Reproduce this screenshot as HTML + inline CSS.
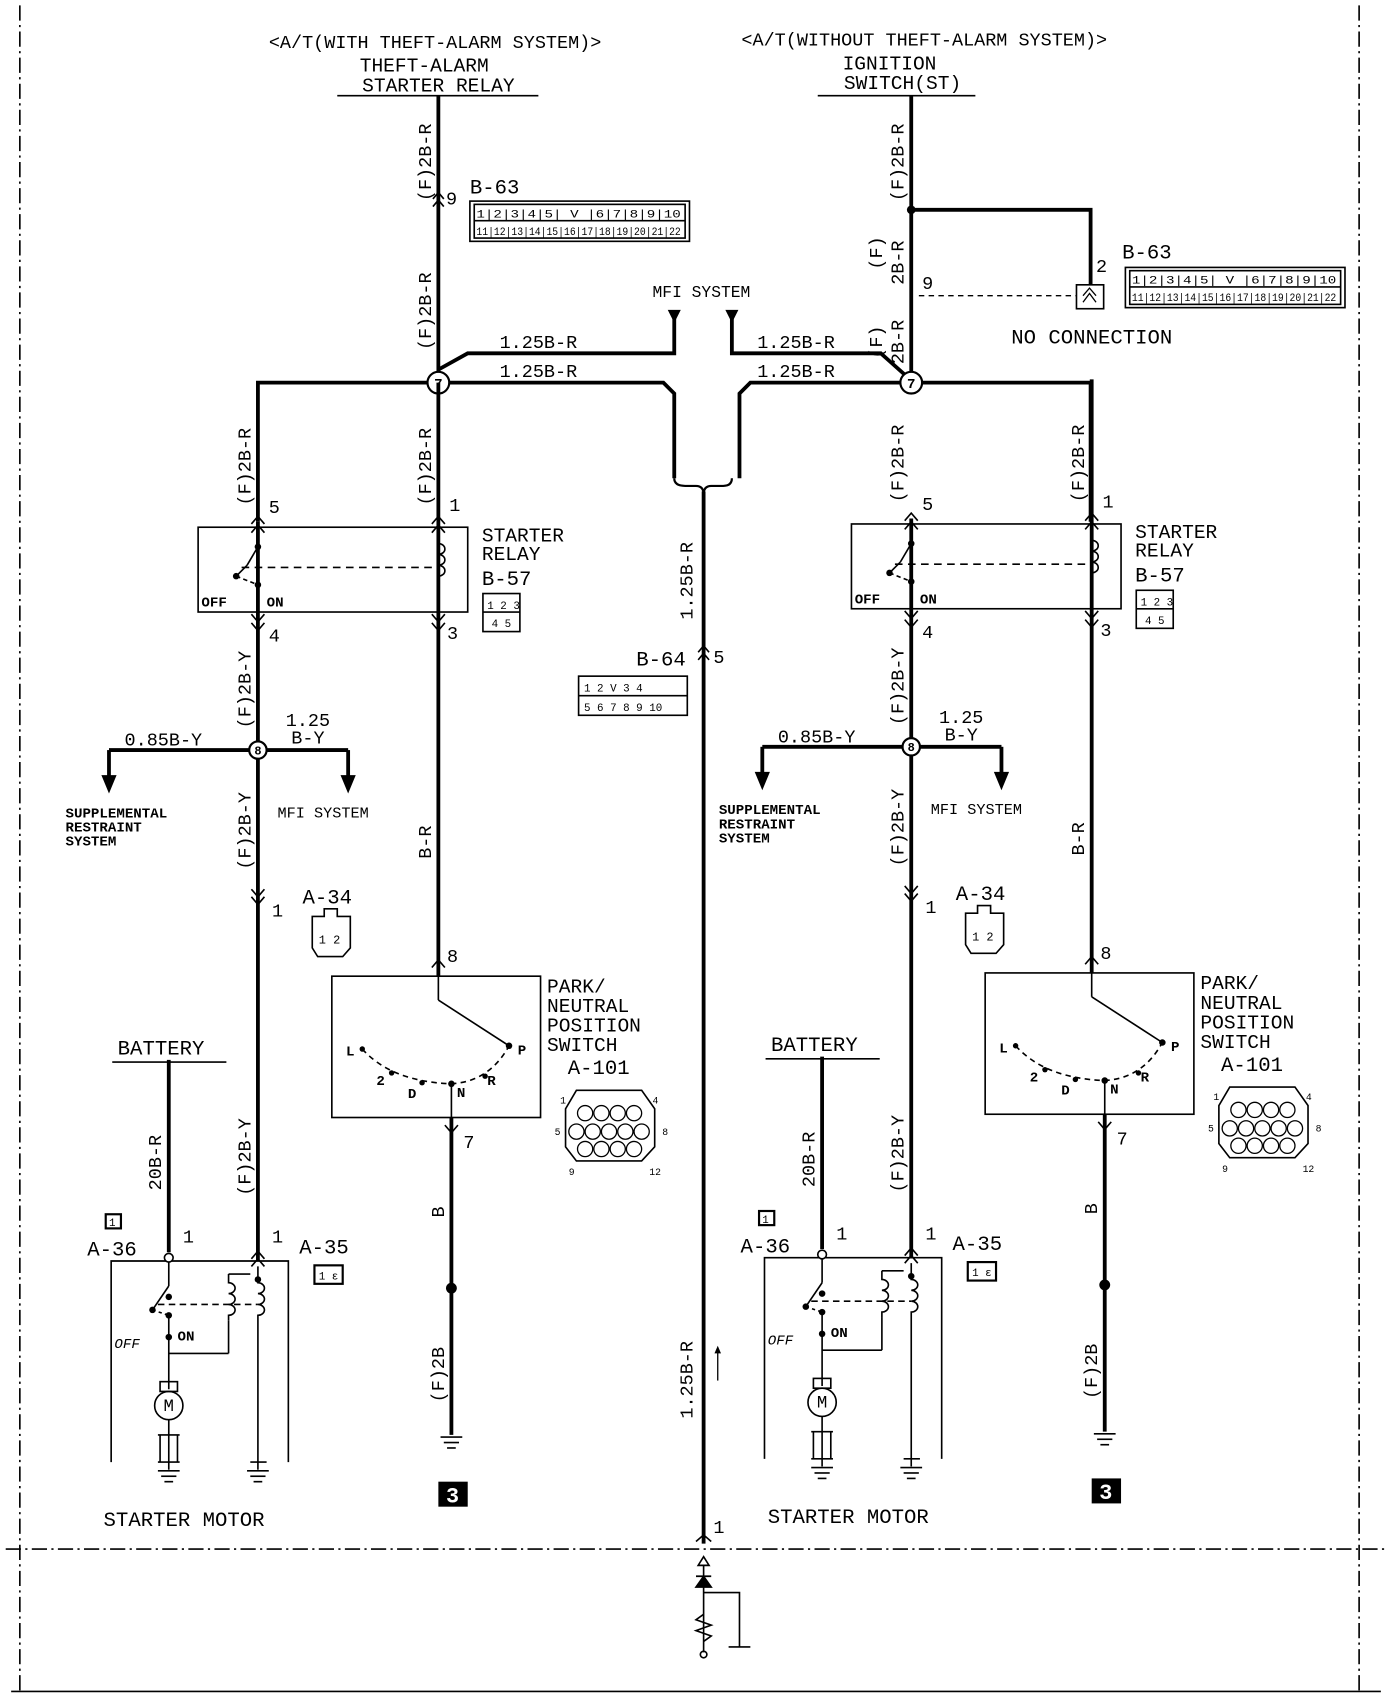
<!DOCTYPE html>
<html><head><meta charset="utf-8"><style>
html,body{margin:0;padding:0;background:#fff;}
svg{display:block;}
text{font-family:"Liberation Mono","DejaVu Sans Mono",monospace;fill:#000;}
</style></head><body>
<svg width="1392" height="1698" viewBox="0 0 1280 1562" xmlns="http://www.w3.org/2000/svg">
<rect width="1280" height="1562" fill="#fff"/>
<g stroke="#000" stroke-width="1.5" fill="none" stroke-dasharray="14,4,2,4">
<line x1="18" y1="5" x2="18" y2="1555"/>
<line x1="1250" y1="5" x2="1250" y2="1555"/>
<line x1="5" y1="1425" x2="1275" y2="1425"/>
</g>
<line x1="10" y1="1556" x2="1270" y2="1556" stroke="#000" stroke-width="1.5"/>

<text x="400" y="44" font-size="17" text-anchor="middle">&lt;A/T(WITH THEFT-ALARM SYSTEM)&gt;</text>
<text x="850" y="42" font-size="17" text-anchor="middle">&lt;A/T(WITHOUT THEFT-ALARM SYSTEM)&gt;</text>
<text x="390" y="66" font-size="18" text-anchor="middle">THEFT-ALARM</text>
<text x="403" y="84" font-size="18" text-anchor="middle">STARTER RELAY</text>
<line x1="310" y1="88" x2="495" y2="88" stroke="#000" stroke-width="1.5"/>
<text x="818" y="64" font-size="18" text-anchor="middle">IGNITION</text>
<text x="830" y="82" font-size="18" text-anchor="middle">SWITCH(ST)</text>
<line x1="752" y1="88" x2="897" y2="88" stroke="#000" stroke-width="1.5"/>

<g stroke="#000" stroke-width="3.5" fill="none">
<line x1="403" y1="88" x2="403" y2="352"/>
<line x1="838" y1="88" x2="838" y2="352"/>
<polyline points="838,193 1003,193 1003,262"/>
<polyline points="403,340 430,325 620,325 620,292"/>
<polyline points="673,292 673,325 810,325 838,350"/>
<polyline points="237,480 237,352 610,352 620,362 620,440"/>
<polyline points="1003,480 1003,352 690,352 680,362 680,440"/>
<line x1="647" y1="452" x2="647" y2="1420"/>
</g>
<circle cx="838" cy="193" r="4"/>
<path d="M620,440 Q620,447 630,447 L640,447 Q647,447 647,455 Q647,447 654,447 L665,447 Q673,447 673,440" stroke="#000" stroke-width="2" fill="none"/>
<path d="M614,285 L626,285 L620,297 Z M667,285 L679,285 L673,297 Z"/>
<text x="645" y="273" font-size="15" text-anchor="middle">MFI SYSTEM</text>
<text x="495" y="320" font-size="17" text-anchor="middle">1.25B-R</text>
<text x="495" y="347" font-size="17" text-anchor="middle">1.25B-R</text>
<text x="732" y="320" font-size="17" text-anchor="middle">1.25B-R</text>
<text x="732" y="347" font-size="17" text-anchor="middle">1.25B-R</text>
<circle cx="403" cy="352" r="10" fill="#fff" stroke="#000" stroke-width="2"/><text x="403" y="357" font-size="13" font-weight="bold" text-anchor="middle">7</text>
<circle cx="838" cy="352" r="10" fill="#fff" stroke="#000" stroke-width="2"/><text x="838" y="357" font-size="13" font-weight="bold" text-anchor="middle">7</text>

<g font-size="17">
<text transform="translate(396,185) rotate(-90)">(F)2B-R</text>
<text transform="translate(396,322) rotate(-90)">(F)2B-R</text>
<text transform="translate(831,185) rotate(-90)">(F)2B-R</text>
<text transform="translate(811,248) rotate(-90)">(F)</text>
<text transform="translate(831,262) rotate(-90)">2B-R</text>
<text transform="translate(811,330) rotate(-90)">(F)</text>
<text transform="translate(831,335) rotate(-90)">2B-R</text>
</g>
<path d="M398,183 L403,177 L408,183 M398,190 L403,184 L408,190" stroke="#000" stroke-width="1.5" fill="none"/>
<text x="410" y="188" font-size="17">9</text>
<text x="432" y="178" font-size="19">B-63</text>
<g stroke="#000" stroke-width="1.5" fill="none">
<rect x="432" y="185" width="202" height="37"/>
<rect x="436" y="188" width="194" height="31"/>
<line x1="436" y1="203" x2="630" y2="203"/>
</g>
<text x="438" y="200" font-size="10" textLength="188" lengthAdjust="spacingAndGlyphs">1|2|3|4|5| V |6|7|8|9|10</text>
<text x="438" y="216" font-size="10" textLength="188" lengthAdjust="spacingAndGlyphs">11|12|13|14|15|16|17|18|19|20|21|22</text>
<text x="848" y="266" font-size="17">9</text>
<line x1="845" y1="272" x2="990" y2="272" stroke="#000" stroke-width="1.2" stroke-dasharray="5,4"/>
<rect x="990" y="262" width="25" height="22" fill="#fff" stroke="#000" stroke-width="1.5"/>
<path d="M996,278 L1002,270 L1008,278 M996,272 L1002,265 L1008,272" stroke="#000" stroke-width="1.2" fill="none"/>
<text x="1008" y="250" font-size="17">2</text>
<text x="1032" y="238" font-size="19">B-63</text>
<g stroke="#000" stroke-width="1.5" fill="none">
<rect x="1035" y="246" width="202" height="37"/>
<rect x="1039" y="249" width="194" height="31"/>
<line x1="1039" y1="264" x2="1233" y2="264"/>
</g>
<text x="1041" y="261" font-size="10" textLength="188" lengthAdjust="spacingAndGlyphs">1|2|3|4|5| V |6|7|8|9|10</text>
<text x="1041" y="277" font-size="10" textLength="188" lengthAdjust="spacingAndGlyphs">11|12|13|14|15|16|17|18|19|20|21|22</text>
<text x="930" y="316" font-size="19">NO CONNECTION</text>

<text transform="translate(637,570) rotate(-90)" font-size="17">1.25B-R</text>
<text transform="translate(637,1305) rotate(-90)" font-size="17">1.25B-R</text>
<path d="M642,600 L647,594 L652,600 M642,607 L647,601 L652,607" stroke="#000" stroke-width="1.5" fill="none"/>
<text x="585" y="612" font-size="19">B-64</text><text x="656" y="610" font-size="17">5</text>
<g stroke="#000" stroke-width="1.5" fill="none"><rect x="532" y="622" width="100" height="36"/><line x1="532" y1="640" x2="632" y2="640"/></g>
<text x="537" y="636" font-size="10">1 2 V 3 4</text><text x="537" y="654" font-size="10">5 6 7 8 9 10</text>
<line x1="660" y1="1270" x2="660" y2="1240" stroke="#000" stroke-width="1.2"/>
<path d="M657,1245 L660,1238 L663,1245 Z"/>
<text x="656" y="1410" font-size="17">1</text>
<path d="M640,1418 L647,1412 L654,1418" stroke="#000" stroke-width="1.5" fill="none"/>
<g stroke="#000" stroke-width="1.5" fill="none">
<path d="M642,1440 L647,1432 L652,1440 Z"/>
<line x1="647" y1="1440" x2="647" y2="1520"/>
<path d="M640,1450 L654,1450 M640,1460 L654,1460 L647,1450 L640,1460 Z" fill="#000"/>
<polyline points="647,1465 680,1465 680,1515"/>
<polyline points="647,1485 640,1490 654,1495 640,1500 654,1505 647,1510"/>
<line x1="670" y1="1515" x2="690" y2="1515"/>
<circle cx="647" cy="1522" r="3"/>
</g>

<g id="L">
<g stroke="#000" stroke-width="3.5" fill="none">
<line x1="237" y1="480" x2="237" y2="1160"/>
<line x1="403" y1="352" x2="403" y2="898"/>
<line x1="155" y1="975" x2="155" y2="1152"/>
<line x1="415" y1="1028" x2="415" y2="1320"/>
<line x1="100" y1="690" x2="320" y2="690"/>
<line x1="100" y1="690" x2="100" y2="715"/>
<line x1="320" y1="690" x2="320" y2="715"/>
</g>
<path d="M93,713 L107,713 L100,730 Z M313,713 L327,713 L320,730 Z"/>
<circle cx="237" cy="690" r="8" fill="#fff" stroke="#000" stroke-width="2"/><text x="237" y="694" font-size="11" font-weight="bold" text-anchor="middle">8</text>
<g font-size="17">
<text transform="translate(230,465) rotate(-90)">(F)2B-R</text>
<text transform="translate(396,465) rotate(-90)">(F)2B-R</text>
<text transform="translate(230,670) rotate(-90)">(F)2B-Y</text>
<text transform="translate(230,800) rotate(-90)">(F)2B-Y</text>
<text transform="translate(230,1100) rotate(-90)">(F)2B-Y</text>
<text transform="translate(396,790) rotate(-90)">B-R</text>
<text transform="translate(148,1095) rotate(-90)">20B-R</text>
<text transform="translate(408,1120) rotate(-90)">B</text>
<text transform="translate(408,1290) rotate(-90)">(F)2B</text>
</g>
<g font-size="17">
<text x="247" y="472">5</text><text x="413" y="470">1</text>
<text x="247" y="590">4</text><text x="411" y="588">3</text>
<text x="250" y="843">1</text><text x="411" y="885">8</text>
<text x="426" y="1056">7</text>
<text x="168" y="1143">1</text><text x="250" y="1143">1</text>
</g>
<g stroke="#000" stroke-width="1.5" fill="none">
<path d="M231,482 L237,475 L243,482 M231,490 L237,483 L243,490"/>
<path d="M397,482 L403,475 L409,482 M397,490 L403,483 L409,490"/>
<path d="M231,565 L237,572 L243,565 M231,573 L237,580 L243,573"/>
<path d="M397,565 L403,572 L409,565 M397,573 L403,580 L409,573"/>
<path d="M231,818 L237,825 L243,818 M231,825 L237,832 L243,825"/>
<path d="M397,890 L403,883 L409,890"/>
<path d="M409,1035 L415,1042 L421,1035"/>
<path d="M231,1158 L237,1151 L243,1158 M231,1165 L237,1158 L243,1165"/>
</g>
<g stroke="#000" stroke-width="1.5" fill="none">
<rect x="182" y="485" width="248" height="78"/>
<line x1="237" y1="485" x2="237" y2="503"/>
<line x1="237" y1="503" x2="227" y2="520"/>
<line x1="227" y1="520" x2="217" y2="530"/>
<line x1="222" y1="522" x2="400" y2="522" stroke-dasharray="7,5"/>
<path d="M217,530 L237,538" stroke-dasharray="4,3"/>
<line x1="237" y1="538" x2="237" y2="563"/>
<path d="M403,485 L403,500 a6,5 0 1 1 0,10 a6,5 0 1 1 0,10 a6,5 0 1 1 0,10 L403,563"/>
</g>
<circle cx="237" cy="503" r="3"/><circle cx="217" cy="530" r="3"/><circle cx="237" cy="538" r="3"/>
<text x="185" y="558" font-size="13" font-weight="bold">OFF</text><text x="245" y="558" font-size="13" font-weight="bold">ON</text>
<text x="443" y="498" font-size="18">STARTER</text><text x="443" y="515" font-size="18">RELAY</text>
<text x="443" y="538" font-size="19">B-57</text>
<g stroke="#000" stroke-width="1.5" fill="none"><rect x="444" y="546" width="34" height="35"/><line x1="444" y1="563" x2="478" y2="563"/></g>
<text x="448" y="560" font-size="10">1 2 3</text><text x="452" y="577" font-size="10">4  5</text>
<text x="150" y="686" font-size="17" text-anchor="middle">0.85B-Y</text>
<text x="283" y="668" font-size="17" text-anchor="middle">1.25</text>
<text x="283" y="684" font-size="17" text-anchor="middle">B-Y</text>
<text x="60" y="752" font-size="13" font-weight="bold">SUPPLEMENTAL</text>
<text x="60" y="765" font-size="13" font-weight="bold">RESTRAINT</text>
<text x="60" y="778" font-size="13" font-weight="bold">SYSTEM</text>
<text x="255" y="752" font-size="14">MFI SYSTEM</text>
<text x="278" y="831" font-size="19">A-34</text>
<path d="M287,843 L298,843 L298,836 L310,836 L310,843 L322,843 L322,872 L315,880 L292,880 L287,872 Z" stroke="#000" stroke-width="1.5" fill="none"/>
<text x="293" y="868" font-size="11">1 2</text>
<rect x="305" y="898" width="192" height="130" stroke="#000" stroke-width="1.5" fill="none"/>
<g stroke="#000" stroke-width="1.5" fill="none">
<line x1="403" y1="898" x2="403" y2="920"/>
<line x1="403" y1="920" x2="468" y2="962"/>
<path d="M333,965 Q360,995 415,997 Q450,995 468,962" stroke-dasharray="5,4"/>
<line x1="415" y1="997" x2="415" y2="1028"/>
</g>
<circle cx="468" cy="962" r="3"/><circle cx="415" cy="997" r="3"/><circle cx="360" cy="987" r="2.5"/><circle cx="388" cy="996" r="2.5"/><circle cx="446" cy="990" r="2.5"/><circle cx="333" cy="965" r="2.5"/>
<g font-size="13" font-weight="bold"><text x="318" y="971">L</text><text x="346" y="998">2</text><text x="375" y="1010">D</text><text x="420" y="1009">N</text><text x="448" y="998">R</text><text x="476" y="970">P</text></g>
<g font-size="18"><text x="503" y="913">PARK/</text><text x="503" y="931">NEUTRAL</text><text x="503" y="949">POSITION</text><text x="503" y="967">SWITCH</text></g>
<text x="522" y="988" font-size="19">A-101</text>
<path d="M530,1003 L590,1003 L602,1020 L602,1055 L590,1068 L530,1068 L520,1055 L520,1020 Z" stroke="#000" stroke-width="1.5" fill="none"/>
<g stroke="#000" stroke-width="1.2" fill="none">
<circle cx="538" cy="1024" r="7"/><circle cx="553" cy="1024" r="7"/><circle cx="568" cy="1024" r="7"/><circle cx="583" cy="1024" r="7"/>
<circle cx="530" cy="1041" r="7"/><circle cx="545" cy="1041" r="7"/><circle cx="560" cy="1041" r="7"/><circle cx="575" cy="1041" r="7"/><circle cx="590" cy="1041" r="7"/>
<circle cx="538" cy="1057" r="7"/><circle cx="553" cy="1057" r="7"/><circle cx="568" cy="1057" r="7"/><circle cx="583" cy="1057" r="7"/>
</g>
<g font-size="9"><text x="515" y="1015">1</text><text x="600" y="1015">4</text><text x="510" y="1044">5</text><text x="609" y="1044">8</text><text x="523" y="1081">9</text><text x="597" y="1081">12</text></g>
<circle cx="415" cy="1185" r="5"/>
<g stroke="#000" stroke-width="1.5"><line x1="405" y1="1322" x2="425" y2="1322"/><line x1="408" y1="1327" x2="422" y2="1327"/><line x1="411" y1="1332" x2="419" y2="1332"/></g>
<rect x="403" y="1363" width="27" height="23"/><text x="416" y="1382" font-size="20" font-weight="bold" text-anchor="middle" style="fill:#fff">3</text>
<text x="108" y="970" font-size="19">BATTERY</text>
<line x1="103" y1="977" x2="208" y2="977" stroke="#000" stroke-width="1.5"/>
<rect x="97" y="1117" width="14" height="13" stroke="#000" stroke-width="2" fill="none"/><text x="100" y="1128" font-size="10">1</text>
<text x="80" y="1155" font-size="19">A-36</text>
<text x="275" y="1153" font-size="19">A-35</text>
<rect x="289" y="1164" width="26" height="17" stroke="#000" stroke-width="2" fill="none"/><text x="293" y="1177" font-size="10">1 ε</text>
<g stroke="#000" stroke-width="1.5" fill="none">
<polyline points="102,1345 102,1160 265,1160 265,1345"/>
<circle cx="155" cy="1157" r="4" fill="#fff"/>
<line x1="155" y1="1161" x2="155" y2="1183"/>
<line x1="155" y1="1183" x2="140" y2="1205"/>
<line x1="145" y1="1200" x2="237" y2="1200" stroke-dasharray="6,4"/>
<path d="M140,1205 L155,1210" stroke-dasharray="3,3"/>
<polyline points="155,1210 155,1278"/>
<line x1="155" y1="1245" x2="210" y2="1245"/>
<polyline points="210,1245 210,1215"/>
<path d="M210,1172 L230,1172 M210,1172 L210,1180 a6,5 0 1 1 0,10 a6,5 0 1 1 0,10 a6,5 0 1 1 0,10 L210,1215"/>
<path d="M237,1165 L237,1180 a6,5 0 1 1 0,10 a6,5 0 1 1 0,10 a6,5 0 1 1 0,10 L237,1345"/>
<circle cx="155" cy="1293" r="13"/>
<rect x="147" y="1271" width="16" height="9"/>
<line x1="155" y1="1306" x2="155" y2="1345"/>
<line x1="145" y1="1320" x2="165" y2="1320"/>
<line x1="147" y1="1320" x2="147" y2="1345"/><line x1="163" y1="1320" x2="163" y2="1345"/>
<line x1="230" y1="1345" x2="245" y2="1345"/>
<line x1="145" y1="1345" x2="165" y2="1345"/>
<line x1="155" y1="1345" x2="155" y2="1352"/><line x1="237" y1="1345" x2="237" y2="1352"/>
<line x1="145" y1="1353" x2="165" y2="1353"/><line x1="148" y1="1358" x2="162" y2="1358"/><line x1="151" y1="1363" x2="159" y2="1363"/>
<line x1="227" y1="1353" x2="247" y2="1353"/><line x1="230" y1="1358" x2="244" y2="1358"/><line x1="233" y1="1363" x2="241" y2="1363"/>
</g>
<circle cx="155" cy="1193" r="3"/><circle cx="140" cy="1205" r="3"/><circle cx="155" cy="1210" r="3"/><circle cx="155" cy="1230" r="3"/><circle cx="237" cy="1177" r="3"/>
<text x="145" y="1298" font-size="16" text-anchor="middle" dx="10">M</text>
<text x="105" y="1240" font-size="13" font-style="italic">OFF</text><text x="163" y="1233" font-size="13" font-weight="bold">ON</text>
<text x="95" y="1404" font-size="19">STARTER MOTOR</text>
</g>

<g transform="translate(601,-3)">
<g stroke="#000" stroke-width="3.5" fill="none">
<line x1="237" y1="480" x2="237" y2="1160"/>
<line x1="403" y1="352" x2="403" y2="898"/>
<line x1="155" y1="975" x2="155" y2="1152"/>
<line x1="415" y1="1028" x2="415" y2="1320"/>
<line x1="100" y1="690" x2="320" y2="690"/>
<line x1="100" y1="690" x2="100" y2="715"/>
<line x1="320" y1="690" x2="320" y2="715"/>
</g>
<path d="M93,713 L107,713 L100,730 Z M313,713 L327,713 L320,730 Z"/>
<circle cx="237" cy="690" r="8" fill="#fff" stroke="#000" stroke-width="2"/><text x="237" y="694" font-size="11" font-weight="bold" text-anchor="middle">8</text>
<g font-size="17">
<text transform="translate(230,465) rotate(-90)">(F)2B-R</text>
<text transform="translate(396,465) rotate(-90)">(F)2B-R</text>
<text transform="translate(230,670) rotate(-90)">(F)2B-Y</text>
<text transform="translate(230,800) rotate(-90)">(F)2B-Y</text>
<text transform="translate(230,1100) rotate(-90)">(F)2B-Y</text>
<text transform="translate(396,790) rotate(-90)">B-R</text>
<text transform="translate(148,1095) rotate(-90)">20B-R</text>
<text transform="translate(408,1120) rotate(-90)">B</text>
<text transform="translate(408,1290) rotate(-90)">(F)2B</text>
</g>
<g font-size="17">
<text x="247" y="472">5</text><text x="413" y="470">1</text>
<text x="247" y="590">4</text><text x="411" y="588">3</text>
<text x="250" y="843">1</text><text x="411" y="885">8</text>
<text x="426" y="1056">7</text>
<text x="168" y="1143">1</text><text x="250" y="1143">1</text>
</g>
<g stroke="#000" stroke-width="1.5" fill="none">
<path d="M231,482 L237,475 L243,482 M231,490 L237,483 L243,490"/>
<path d="M397,482 L403,475 L409,482 M397,490 L403,483 L409,490"/>
<path d="M231,565 L237,572 L243,565 M231,573 L237,580 L243,573"/>
<path d="M397,565 L403,572 L409,565 M397,573 L403,580 L409,573"/>
<path d="M231,818 L237,825 L243,818 M231,825 L237,832 L243,825"/>
<path d="M397,890 L403,883 L409,890"/>
<path d="M409,1035 L415,1042 L421,1035"/>
<path d="M231,1158 L237,1151 L243,1158 M231,1165 L237,1158 L243,1165"/>
</g>
<g stroke="#000" stroke-width="1.5" fill="none">
<rect x="182" y="485" width="248" height="78"/>
<line x1="237" y1="485" x2="237" y2="503"/>
<line x1="237" y1="503" x2="227" y2="520"/>
<line x1="227" y1="520" x2="217" y2="530"/>
<line x1="222" y1="522" x2="400" y2="522" stroke-dasharray="7,5"/>
<path d="M217,530 L237,538" stroke-dasharray="4,3"/>
<line x1="237" y1="538" x2="237" y2="563"/>
<path d="M403,485 L403,500 a6,5 0 1 1 0,10 a6,5 0 1 1 0,10 a6,5 0 1 1 0,10 L403,563"/>
</g>
<circle cx="237" cy="503" r="3"/><circle cx="217" cy="530" r="3"/><circle cx="237" cy="538" r="3"/>
<text x="185" y="558" font-size="13" font-weight="bold">OFF</text><text x="245" y="558" font-size="13" font-weight="bold">ON</text>
<text x="443" y="498" font-size="18">STARTER</text><text x="443" y="515" font-size="18">RELAY</text>
<text x="443" y="538" font-size="19">B-57</text>
<g stroke="#000" stroke-width="1.5" fill="none"><rect x="444" y="546" width="34" height="35"/><line x1="444" y1="563" x2="478" y2="563"/></g>
<text x="448" y="560" font-size="10">1 2 3</text><text x="452" y="577" font-size="10">4  5</text>
<text x="150" y="686" font-size="17" text-anchor="middle">0.85B-Y</text>
<text x="283" y="668" font-size="17" text-anchor="middle">1.25</text>
<text x="283" y="684" font-size="17" text-anchor="middle">B-Y</text>
<text x="60" y="752" font-size="13" font-weight="bold">SUPPLEMENTAL</text>
<text x="60" y="765" font-size="13" font-weight="bold">RESTRAINT</text>
<text x="60" y="778" font-size="13" font-weight="bold">SYSTEM</text>
<text x="255" y="752" font-size="14">MFI SYSTEM</text>
<text x="278" y="831" font-size="19">A-34</text>
<path d="M287,843 L298,843 L298,836 L310,836 L310,843 L322,843 L322,872 L315,880 L292,880 L287,872 Z" stroke="#000" stroke-width="1.5" fill="none"/>
<text x="293" y="868" font-size="11">1 2</text>
<rect x="305" y="898" width="192" height="130" stroke="#000" stroke-width="1.5" fill="none"/>
<g stroke="#000" stroke-width="1.5" fill="none">
<line x1="403" y1="898" x2="403" y2="920"/>
<line x1="403" y1="920" x2="468" y2="962"/>
<path d="M333,965 Q360,995 415,997 Q450,995 468,962" stroke-dasharray="5,4"/>
<line x1="415" y1="997" x2="415" y2="1028"/>
</g>
<circle cx="468" cy="962" r="3"/><circle cx="415" cy="997" r="3"/><circle cx="360" cy="987" r="2.5"/><circle cx="388" cy="996" r="2.5"/><circle cx="446" cy="990" r="2.5"/><circle cx="333" cy="965" r="2.5"/>
<g font-size="13" font-weight="bold"><text x="318" y="971">L</text><text x="346" y="998">2</text><text x="375" y="1010">D</text><text x="420" y="1009">N</text><text x="448" y="998">R</text><text x="476" y="970">P</text></g>
<g font-size="18"><text x="503" y="913">PARK/</text><text x="503" y="931">NEUTRAL</text><text x="503" y="949">POSITION</text><text x="503" y="967">SWITCH</text></g>
<text x="522" y="988" font-size="19">A-101</text>
<path d="M530,1003 L590,1003 L602,1020 L602,1055 L590,1068 L530,1068 L520,1055 L520,1020 Z" stroke="#000" stroke-width="1.5" fill="none"/>
<g stroke="#000" stroke-width="1.2" fill="none">
<circle cx="538" cy="1024" r="7"/><circle cx="553" cy="1024" r="7"/><circle cx="568" cy="1024" r="7"/><circle cx="583" cy="1024" r="7"/>
<circle cx="530" cy="1041" r="7"/><circle cx="545" cy="1041" r="7"/><circle cx="560" cy="1041" r="7"/><circle cx="575" cy="1041" r="7"/><circle cx="590" cy="1041" r="7"/>
<circle cx="538" cy="1057" r="7"/><circle cx="553" cy="1057" r="7"/><circle cx="568" cy="1057" r="7"/><circle cx="583" cy="1057" r="7"/>
</g>
<g font-size="9"><text x="515" y="1015">1</text><text x="600" y="1015">4</text><text x="510" y="1044">5</text><text x="609" y="1044">8</text><text x="523" y="1081">9</text><text x="597" y="1081">12</text></g>
<circle cx="415" cy="1185" r="5"/>
<g stroke="#000" stroke-width="1.5"><line x1="405" y1="1322" x2="425" y2="1322"/><line x1="408" y1="1327" x2="422" y2="1327"/><line x1="411" y1="1332" x2="419" y2="1332"/></g>
<rect x="403" y="1363" width="27" height="23"/><text x="416" y="1382" font-size="20" font-weight="bold" text-anchor="middle" style="fill:#fff">3</text>
<text x="108" y="970" font-size="19">BATTERY</text>
<line x1="103" y1="977" x2="208" y2="977" stroke="#000" stroke-width="1.5"/>
<rect x="97" y="1117" width="14" height="13" stroke="#000" stroke-width="2" fill="none"/><text x="100" y="1128" font-size="10">1</text>
<text x="80" y="1155" font-size="19">A-36</text>
<text x="275" y="1153" font-size="19">A-35</text>
<rect x="289" y="1164" width="26" height="17" stroke="#000" stroke-width="2" fill="none"/><text x="293" y="1177" font-size="10">1 ε</text>
<g stroke="#000" stroke-width="1.5" fill="none">
<polyline points="102,1345 102,1160 265,1160 265,1345"/>
<circle cx="155" cy="1157" r="4" fill="#fff"/>
<line x1="155" y1="1161" x2="155" y2="1183"/>
<line x1="155" y1="1183" x2="140" y2="1205"/>
<line x1="145" y1="1200" x2="237" y2="1200" stroke-dasharray="6,4"/>
<path d="M140,1205 L155,1210" stroke-dasharray="3,3"/>
<polyline points="155,1210 155,1278"/>
<line x1="155" y1="1245" x2="210" y2="1245"/>
<polyline points="210,1245 210,1215"/>
<path d="M210,1172 L230,1172 M210,1172 L210,1180 a6,5 0 1 1 0,10 a6,5 0 1 1 0,10 a6,5 0 1 1 0,10 L210,1215"/>
<path d="M237,1165 L237,1180 a6,5 0 1 1 0,10 a6,5 0 1 1 0,10 a6,5 0 1 1 0,10 L237,1345"/>
<circle cx="155" cy="1293" r="13"/>
<rect x="147" y="1271" width="16" height="9"/>
<line x1="155" y1="1306" x2="155" y2="1345"/>
<line x1="145" y1="1320" x2="165" y2="1320"/>
<line x1="147" y1="1320" x2="147" y2="1345"/><line x1="163" y1="1320" x2="163" y2="1345"/>
<line x1="230" y1="1345" x2="245" y2="1345"/>
<line x1="145" y1="1345" x2="165" y2="1345"/>
<line x1="155" y1="1345" x2="155" y2="1352"/><line x1="237" y1="1345" x2="237" y2="1352"/>
<line x1="145" y1="1353" x2="165" y2="1353"/><line x1="148" y1="1358" x2="162" y2="1358"/><line x1="151" y1="1363" x2="159" y2="1363"/>
<line x1="227" y1="1353" x2="247" y2="1353"/><line x1="230" y1="1358" x2="244" y2="1358"/><line x1="233" y1="1363" x2="241" y2="1363"/>
</g>
<circle cx="155" cy="1193" r="3"/><circle cx="140" cy="1205" r="3"/><circle cx="155" cy="1210" r="3"/><circle cx="155" cy="1230" r="3"/><circle cx="237" cy="1177" r="3"/>
<text x="145" y="1298" font-size="16" text-anchor="middle" dx="10">M</text>
<text x="105" y="1240" font-size="13" font-style="italic">OFF</text><text x="163" y="1233" font-size="13" font-weight="bold">ON</text>
<text x="105" y="1404" font-size="19">STARTER MOTOR</text>
</g>
</svg>
</body></html>
